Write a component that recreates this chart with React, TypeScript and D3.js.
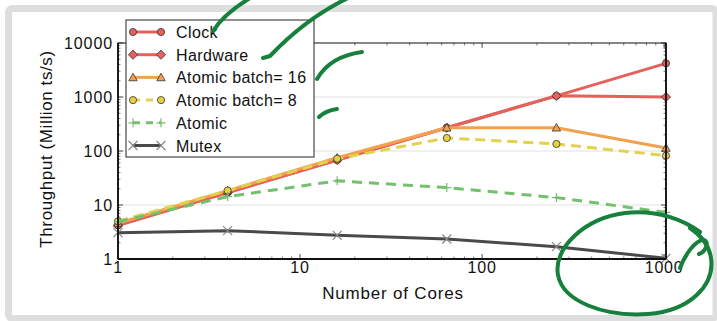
import React from "react";
import * as d3 from "d3";

// cores on the x axis (log scale)
const cores = [1, 4, 16, 64, 256, 1024];

// throughput values, Million ts/s
const clock = [4.2, 17, 68, 270, 1050, 4200];
const hardware = [4.2, 17, 68, 270, 1050, 1000];
const batch16 = [4.6, 18.5, 75, 270, 270, 114];
const batch8 = [5.0, 18.5, 72, 174, 135, 82];
const atomic = [4.9, 14.3, 28, 21, 13.7, 7.3];
const mutex = [3.07, 3.35, 2.74, 2.35, 1.69, 1.03];

const xTicks = [1, 10, 100, 1000];
const yTicks = [1, 10, 100, 1000, 10000];

const series = [
  { name: "Clock", values: clock, color: "#e5625c", dash: "", marker: "circle", mfill: "#e5625c" },
  { name: "Hardware", values: hardware, color: "#e5625c", dash: "", marker: "diamond", mfill: "#e5625c" },
  { name: "Atomic batch= 16", values: batch16, color: "#f2a24e", dash: "", marker: "triangle", mfill: "#f2a24e" },
  { name: "Atomic batch= 8", values: batch8, color: "#e2d24e", dash: "10,6", marker: "circle", mfill: "#e8d040" },
  { name: "Atomic", values: atomic, color: "#74c06c", dash: "10,7", marker: "plus", mfill: "#74c06c" },
  { name: "Mutex", values: mutex, color: "#4a4a4a", dash: "", marker: "x", mfill: "#888" },
];

const W = 717;
const H = 321;
const left = 118;
const right = 666;
const top = 43;
const bottom = 259;
const font = "'Liberation Sans', Arial, Helvetica, sans-serif";
const ink = "#16803c";

const Marker = ({ kind, cx, cy, fill }) => {
  if (kind === "circle")
    return <circle cx={cx} cy={cy} r={3.6} fill={fill} stroke="#333" strokeWidth={0.8} />;
  if (kind === "diamond") {
    const r = 4.6;
    return (
      <path
        d={`M${cx},${cy - r}L${cx + r},${cy}L${cx},${cy + r}L${cx - r},${cy}Z`}
        fill={fill}
        stroke="#333"
        strokeWidth={0.8}
      />
    );
  }
  if (kind === "triangle") {
    const r = 4.2;
    return (
      <path
        d={`M${cx},${cy - r}L${cx + r},${cy + r * 0.8}L${cx - r},${cy + r * 0.8}Z`}
        fill={fill}
        stroke="#333"
        strokeWidth={0.8}
      />
    );
  }
  if (kind === "plus") {
    const r = 4.5;
    return (
      <path d={`M${cx - r},${cy}H${cx + r}M${cx},${cy - r}V${cy + r}`} stroke={fill} strokeWidth={1.2} />
    );
  }
  const r = 4.5;
  return (
    <path
      d={`M${cx - r},${cy - r}L${cx + r},${cy + r}M${cx - r},${cy + r}L${cx + r},${cy - r}`}
      stroke={fill}
      strokeWidth={1.2}
    />
  );
};

export default function App() {
  const x = d3.scaleLog().domain([1, 1024]).range([left, right]);
  const y = d3.scaleLog().domain([1, 10000]).range([bottom, top]);

  const line = d3
    .line<number>()
    .x((d, i) => x(cores[i]))
    .y((d) => y(d));

  // minor ticks 2..9 per decade
  const xMinor = [];
  for (let p = 1; p <= 100; p *= 10) for (let k = 2; k <= 9; k++) if (p * k <= 1024) xMinor.push(p * k);
  const yMinor = [];
  for (let p = 1; p <= 1000; p *= 10) for (let k = 2; k <= 9; k++) yMinor.push(p * k);

  const legX = 126;
  const legY = 20;
  const rowH = 22.7;

  return (
    <svg
      width={W}
      height={H}
      style={{ position: "absolute", left: 0, top: 0, background: "#fff" }}
      fontFamily={font}
    >
      {/* outer frame */}
      <rect x={8.5} y={8.5} width={707.5} height={310} rx={4} fill="none" stroke="#dedede" strokeWidth={7} />

      {/* grid */}
      {yTicks.slice(1, -1).map((t) => (
        <line key={t} x1={left} x2={right} y1={y(t)} y2={y(t)} stroke="#e2e2e2" strokeWidth={1} />
      ))}

      {/* ticks */}
      <g stroke="#222">
        {xTicks.map((t) => (
          <g key={"xt" + t}>
            <line x1={x(t)} x2={x(t)} y1={bottom} y2={bottom - 5} strokeWidth={0.8} />
            <line x1={x(t)} x2={x(t)} y1={top} y2={top + 5} strokeWidth={0.8} />
          </g>
        ))}
        {xMinor.map((t) => (
          <g key={"xm" + t}>
            <line x1={x(t)} x2={x(t)} y1={bottom} y2={bottom - 2.5} strokeWidth={0.6} />
            <line x1={x(t)} x2={x(t)} y1={top} y2={top + 2.5} strokeWidth={0.6} />
          </g>
        ))}
        {yTicks.map((t) => (
          <g key={"yt" + t}>
            <line x1={left} x2={left + 5} y1={y(t)} y2={y(t)} strokeWidth={0.8} />
            <line x1={right} x2={right - 5} y1={y(t)} y2={y(t)} strokeWidth={0.8} />
          </g>
        ))}
        {yMinor.map((t) => (
          <g key={"ym" + t}>
            <line x1={left} x2={left + 2.5} y1={y(t)} y2={y(t)} strokeWidth={0.6} />
            <line x1={right} x2={right - 2.5} y1={y(t)} y2={y(t)} strokeWidth={0.6} />
          </g>
        ))}
      </g>

      {/* series */}
      {series.map((s) => (
        <g key={s.name}>
          <path
            d={line(s.values)}
            fill="none"
            stroke={s.color}
            strokeWidth={3}
            strokeDasharray={s.dash}
            strokeLinejoin="round"
          />
          {s.values.map((v, i) => (
            <Marker key={i} kind={s.marker} cx={x(cores[i])} cy={y(v)} fill={s.mfill} />
          ))}
        </g>
      ))}

      {/* frame */}
      <rect x={left} y={top} width={right - left} height={bottom - top} fill="none" stroke="#111" strokeWidth={1} />
      <line x1={left} x2={left} y1={top} y2={bottom} stroke="#111" strokeWidth={1.8} />
      <line x1={left} x2={right} y1={bottom} y2={bottom} stroke="#111" strokeWidth={1.8} />
      <line x1={right} x2={right} y1={top} y2={bottom} stroke="#111" strokeWidth={1.8} />

      {/* tick labels */}
      {xTicks.map((t) => (
        <text key={"xl" + t} x={x(t)} y={273} textAnchor="middle" fontSize={16} letterSpacing={0.8} fill="#111">
          {t}
        </text>
      ))}
      {yTicks.map((t) => (
        <text key={"yl" + t} x={left - 5} y={y(t) + 6} textAnchor="end" fontSize={16} letterSpacing={0.9} fill="#111">
          {t}
        </text>
      ))}

      {/* axis titles */}
      <text x={393} y={299} textAnchor="middle" fontSize={17} letterSpacing={0.8} fill="#111">
        Number of Cores
      </text>
      <text
        transform={`translate(52,149) rotate(-90)`}
        textAnchor="middle"
        fontSize={17}
        letterSpacing={0.6}
        fill="#111"
      >
        Throughput (Million ts/s)
      </text>

      {/* legend */}
      <rect x={legX} y={legY} width={188} height={137} fill="#fff" stroke="#222" strokeWidth={1} />
      {series.map((s, i) => {
        const cy = legY + 12 + i * rowH;
        return (
          <g key={"leg" + s.name}>
            <line
              x1={legX + 7}
              x2={legX + 35}
              y1={cy}
              y2={cy}
              stroke={s.color}
              strokeWidth={3}
              strokeDasharray={s.dash ? "7,6" : ""}
            />
            <Marker kind={s.marker} cx={legX + 7} cy={cy} fill={s.mfill} />
            <Marker kind={s.marker} cx={legX + 35} cy={cy} fill={s.mfill} />
            <text x={legX + 50} y={cy + 6} fontSize={16} fill="#111" letterSpacing={0.4}>
              {s.name}
            </text>
          </g>
        );
      })}

      {/* handwritten annotations */}
      <g fill="none" stroke={ink} strokeWidth={4} strokeLinecap="round" strokeLinejoin="round">
        <path d="M213,31 C220,20 232,9 250,-2" />
        <path d="M263,58 L270,56 C290,35 315,14 348,-2" />
        <path d="M317,79 C325,65 340,55 362,52" />
        <path d="M319,117 C324,112 330,110 337,109" />
        <path d="M700,232 C680,218 655,210 625,213 C585,218 553,248 558,275 C563,302 605,317 648,314 C690,311 715,285 711,258 C709,245 702,236 690,228" />
        <path d="M680,268 C685,255 695,240 704,240 C710,243 705,252 699,254" />
      </g>
    </svg>
  );
}
